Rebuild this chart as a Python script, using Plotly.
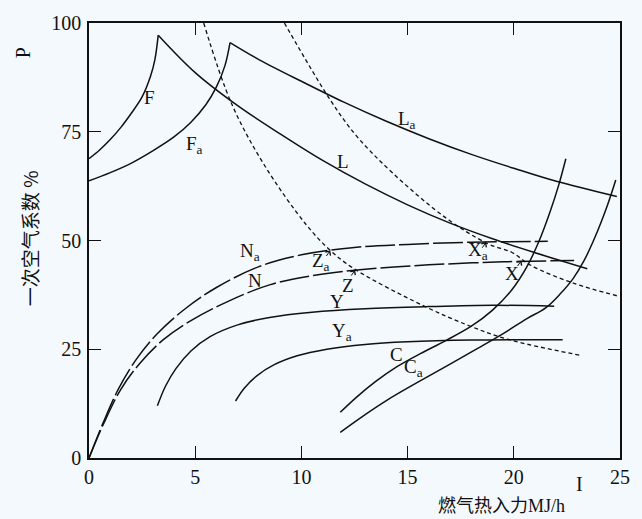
import plotly.graph_objects as go

# ---- curve data (x: gas heat input MJ/h, y: primary air ratio %) ----
F_x = [0, 0.5, 1.0, 1.5, 2.0, 2.5, 2.9, 3.1, 3.26]
F_y = [68.8, 70.8, 73.2, 76.0, 79.3, 83.0, 87.8, 91.5, 97.2]

Fa_x = [0, 1.0, 2.0, 3.0, 4.0, 4.8, 5.5, 6.0, 6.4, 6.64]
Fa_y = [63.7, 65.6, 67.8, 70.6, 73.8, 77.2, 81.2, 85.3, 90.2, 95.5]

L_x = [3.26, 5.0, 7.0, 9.0, 11.0, 13.0, 15.0, 17.0, 19.0, 21.0, 23.46]
L_y = [97.2, 88.6, 81.0, 74.5, 68.4, 63.0, 58.2, 54.0, 50.4, 47.2, 43.5]

La_x = [6.64, 8.0, 10.0, 12.0, 14.0, 16.0, 18.0, 20.0, 22.0, 24.85]
La_y = [95.5, 91.6, 86.6, 81.8, 77.4, 73.4, 69.8, 66.6, 63.6, 60.1]

Na_x = [0, 0.7, 1.4, 2.2, 3.2, 4.5, 6.0, 8.0, 10.0, 12.5, 15.0, 18.0, 21.6]
Na_y = [0, 8.5, 16.0, 22.5, 28.5, 34.2, 39.2, 44.0, 46.7, 48.4, 49.1, 49.6, 49.8]

N_x = [0, 0.7, 1.5, 2.4, 3.5, 4.8, 6.5, 8.5, 10.5, 13.0, 16.0, 19.5, 22.84]
N_y = [0, 8.0, 15.8, 21.8, 27.2, 31.6, 35.9, 39.8, 41.9, 43.4, 44.4, 45.1, 45.4]

Y_x = [3.22, 3.6, 4.1, 4.8, 5.7, 7.0, 8.5, 10.5, 13.0, 16.0, 19.0, 21.9]
Y_y = [12.0, 16.5, 20.6, 24.6, 27.9, 30.6, 32.3, 33.5, 34.3, 34.8, 35.1, 34.9]

Ya_x = [6.9, 7.3, 7.9, 8.7, 9.8, 11.2, 13.0, 15.0, 18.0, 22.3]
Ya_y = [13.1, 16.0, 18.9, 21.4, 23.5, 25.0, 26.1, 26.7, 27.1, 27.2]

C_x = [11.83, 12.6, 13.5, 14.5, 15.6, 16.8, 18.0, 19.0, 19.9, 20.6, 21.2, 21.7, 22.1, 22.45]
C_y = [10.5, 14.0, 17.6, 21.0, 24.0, 27.0, 30.3, 34.0, 38.6, 43.8, 50.0, 56.5, 62.5, 68.8]

Ca_x = [11.83, 12.8, 14.0, 15.4, 17.0, 18.3, 19.5, 20.6, 21.5, 22.2, 22.8, 23.3, 23.8, 24.4, 24.8]
Ca_y = [5.9, 9.3, 13.2, 17.2, 21.6, 25.2, 28.6, 32.0, 34.5, 37.8, 41.3, 45.3, 50.5, 58.0, 63.9]

# dotted boundary curves
D1_x = [5.4, 6.7, 8.26, 10.2, 11.3, 12.45, 15.7, 17.9, 19.7, 23.15]
D1_y = [100, 81.6, 67.3, 53.8, 48.0, 43.6, 35.1, 30.4, 27.3, 23.6]

D2_x = [9.2, 11.36, 12.6, 14.3, 16.8, 18.8, 19.9, 20.8, 22.8, 24.85]
D2_y = [100, 82.3, 74.0, 65.5, 55.2, 49.2, 47.3, 44.3, 40.2, 37.3]

# curve labels: (text, x, y)
curve_labels = [
    ("F", 2.84, 82.9),
    ("F<sub>a</sub>", 4.95, 71.9),
    ("L", 11.94, 68.2),
    ("L<sub>a</sub>", 14.95, 77.8),
    ("N<sub>a</sub>", 7.6, 47.3),
    ("N", 7.8, 40.9),
    ("Z<sub>a</sub>", 10.9, 45.1),
    ("Z", 12.2, 39.7),
    ("Y", 11.67, 36.0),
    ("Y<sub>a</sub>", 11.9, 28.9),
    ("C", 14.47, 23.9),
    ("C<sub>a</sub>", 15.3, 20.8),
    ("X<sub>a</sub>", 18.3, 47.7),
    ("X", 19.9, 42.4),
]

# intersection points marked with small arrowheads
pointer_x = [11.36, 12.53, 18.7, 20.36]
pointer_y = [47.7, 43.2, 49.6, 45.4]

x_ticks = [0, 5, 10, 15, 20, 25]
y_ticks = [0, 25, 50, 75, 100]

BG = "#f4f9fd"
INK = "#111111"
SERIF = "Liberation Serif"
CJK = "Noto Sans CJK SC"

fig = go.Figure()


def add_curve(xs, ys, dash="solid", width=1.5):
    fig.add_trace(go.Scatter(
        x=xs, y=ys, mode="lines",
        line=dict(color=INK, width=width, dash=dash, shape="spline", smoothing=1.0),
        hoverinfo="skip", showlegend=False,
    ))


for xs, ys in [(F_x, F_y), (Fa_x, Fa_y), (L_x, L_y), (La_x, La_y),
               (Y_x, Y_y), (Ya_x, Ya_y), (C_x, C_y), (Ca_x, Ca_y)]:
    add_curve(xs, ys)

for xs, ys in [(Na_x, Na_y), (N_x, N_y)]:
    add_curve(xs, ys, dash="30px,4px")

for xs, ys in [(D1_x, D1_y), (D2_x, D2_y)]:
    add_curve(xs, ys, dash="4px,3px", width=1.3)

annotations = []
for text, x, y in curve_labels:
    annotations.append(dict(
        x=x, y=y, xref="x", yref="y", text=text, showarrow=False,
        xanchor="center", yanchor="middle",
        font=dict(family=SERIF, size=19, color=INK),
    ))

for x, y in zip(pointer_x, pointer_y):
    annotations.append(dict(
        x=x, y=y, xref="x", yref="y", text="", showarrow=True,
        arrowhead=4, arrowsize=1.2, arrowwidth=1, arrowcolor=INK,
        ax=-5, ay=7,
    ))

# axis titles
annotations += [
    dict(x=-0.125, y=0.932, xref="paper", yref="paper", text="P", textangle=-90,
         xanchor="center", yanchor="middle",
         showarrow=False, font=dict(family=SERIF, size=20, color=INK)),
    dict(x=-0.113, y=0.505, xref="paper", yref="paper", text="一次空气系数 %",
         xanchor="center", yanchor="middle",
         textangle=-90, showarrow=False, font=dict(family=CJK, size=19, color=INK)),
    dict(x=0.924, y=-0.059, xref="paper", yref="paper", text="I",
         xanchor="center", yanchor="middle",
         showarrow=False, font=dict(family=SERIF, size=20, color=INK)),
    dict(x=0.776, y=-0.106, xref="paper", yref="paper",
         text="燃气热入力<span style='font-family:Liberation Serif'>MJ/h</span>",
         xanchor="center", yanchor="middle",
         showarrow=False, font=dict(family=CJK, size=18, color=INK)),
]

axis_common = dict(
    showgrid=False, zeroline=False, showline=True, linecolor=INK, linewidth=1.6,
    mirror="ticks", ticks="inside", ticklen=12, tickwidth=1.2, tickcolor=INK,
    tickfont=dict(family=SERIF, size=20, color=INK),
)

fig.update_layout(
    width=642, height=519,
    margin=dict(l=89, r=16, t=15, b=61),
    paper_bgcolor=BG, plot_bgcolor=BG,
    xaxis=dict(range=[0, 25], tickvals=x_ticks, ticktext=[str(v) for v in x_ticks], **axis_common),
    yaxis=dict(range=[0, 100], tickvals=y_ticks, ticktext=[str(v) for v in y_ticks],
               ticklabelstandoff=2, **axis_common),
    annotations=annotations,
    showlegend=False,
)

fig.write_html("out.html")
